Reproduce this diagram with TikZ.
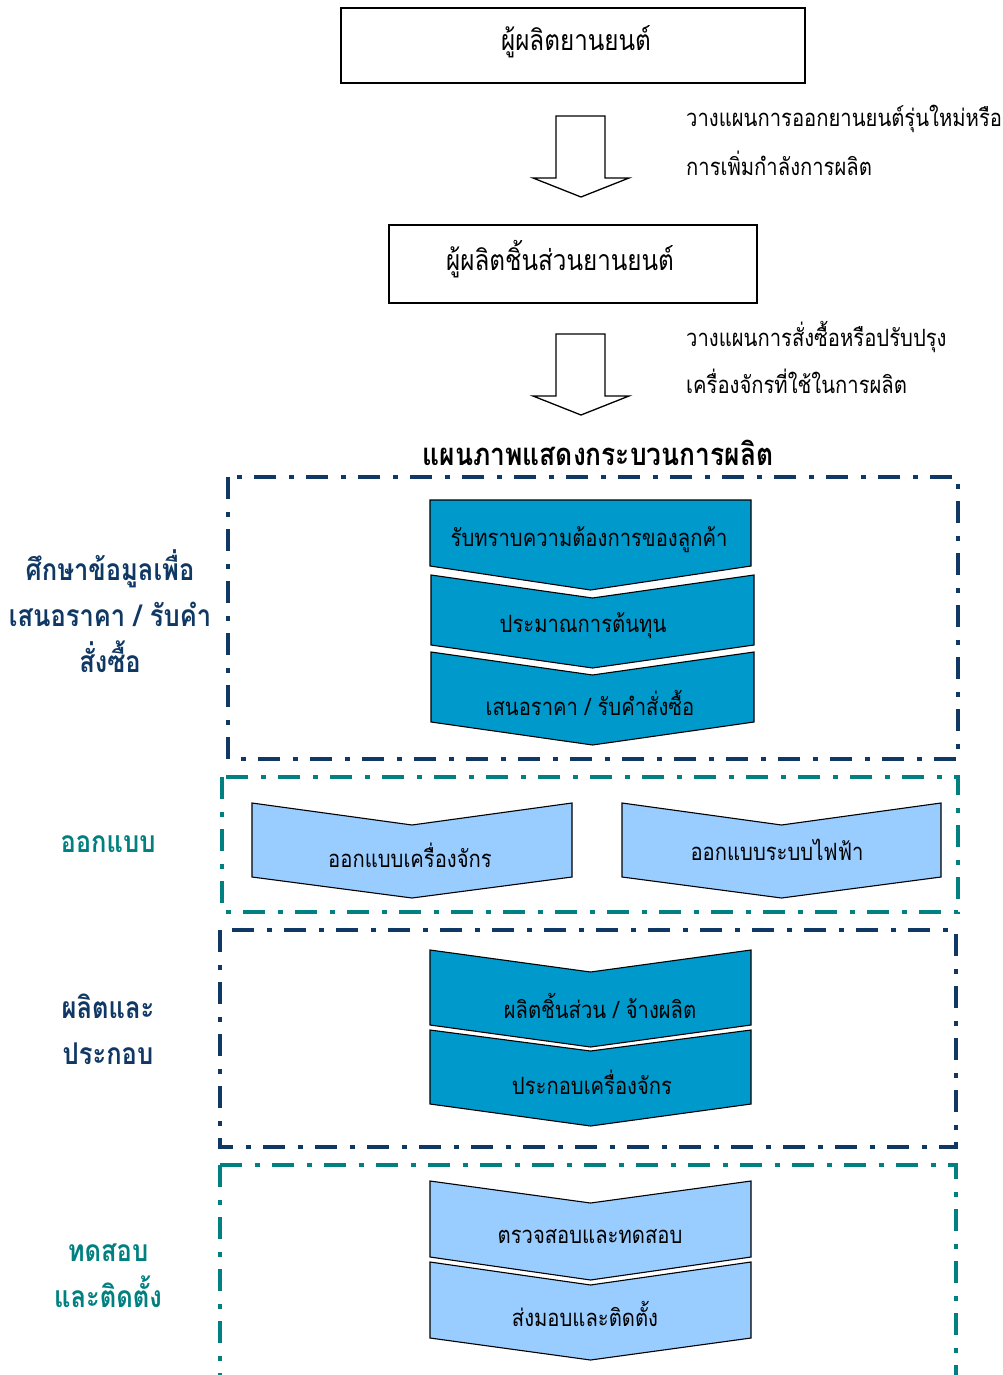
\documentclass[tikz,border=0pt]{standalone}
\usepackage{fontspec}
\newfontfamily\thai[Script=Thai,FakeStretch=0.85]{Loma}
\definecolor{navy}{RGB}{16,56,100}
\definecolor{tealc}{RGB}{0,128,128}
\definecolor{darkchev}{RGB}{0,153,204}
\definecolor{lightchev}{RGB}{153,204,255}
\newcommand\chevshape[8]{% name x1 x2 ytop ybot notch tip fill
  \filldraw[chevline, fill=#8] (#2,#4) -- ({(#2+#3)/2},{#4+#6}) -- (#3,#4) -- (#3,#5) -- ({(#2+#3)/2},{#5+#7}) -- (#2,#5) -- cycle;
  \coordinate (#1) at ({(#2+#3)/2},{(#4+#5)/2});}
\begin{document}
\begin{tikzpicture}[x=1pt,y=-1pt,line join=miter,
  body/.style={font=\thai\fontsize{23.8}{28}\selectfont, inner sep=0pt},
  boxtxt/.style={font=\thai\fontsize{28.5}{32}\selectfont, inner sep=0pt},
  sidelabel/.style={font=\thai\bfseries\fontsize{30}{46}\selectfont, align=center, inner sep=0pt},
  titletxt/.style={font=\thai\bfseries\fontsize{31}{34}\selectfont, inner sep=0pt},
  sect/.style={line width=4pt, dash pattern=on 22pt off 12.5pt on 5pt off 12.5pt},
  chevline/.style={draw=black, line width=1.1pt},
  blockarrow/.style={draw=black, line width=1.3pt, fill=white},
  plainbox/.style={draw=black, line width=1.3pt, fill=white}]
\useasboundingbox (0,0) rectangle (1002,1375);
\fill[white] (0,0) rectangle (1002,1375);

% top boxes
\draw[plainbox] (341,8) rectangle (805,83);
\node[boxtxt] (t1) at (576,42) {ผู้ผลิตยานยนต์};
\draw[plainbox] (389,225) rectangle (757,303);
\node[boxtxt] (t2) at (560,259) {ผู้ผลิตชิ้นส่วนยานยนต์};

% block arrows
\draw[blockarrow] (556,116) -- (605,116) -- (605,178) -- (629,178) -- (581,197) -- (533,178) -- (556,178) -- cycle;
\draw[blockarrow] (556,334) -- (605,334) -- (605,396) -- (629,396) -- (581,415) -- (533,396) -- (556,396) -- cycle;

\node[body, anchor=west] (n1) at (686,119) {วางแผนการออกยานยนต์รุ่นใหม่หรือ};
\node[body, anchor=west] (n2) at (686,163) {การเพิ่มกำลังการผลิต};
\node[body, anchor=west] (n3) at (686,337) {วางแผนการสั่งซื้อหรือปรับปรุง};
\node[body, anchor=west] (n4) at (686,381) {เครื่องจักรที่ใช้ในการผลิต};

\node[titletxt] (title) at (598,453) {แผนภาพแสดงกระบวนการผลิต};

% section frames
\draw[sect, navy] (228,477) rectangle (958,759);
\draw[sect, tealc] (222,777) rectangle (958,912);
\draw[sect, navy] (220,930) rectangle (956,1147);
\draw[sect, tealc] (220,1165) -- (956,1165) -- (956,1380);
\draw[sect, tealc] (220,1165) -- (220,1380);

% side labels
\node[sidelabel, navy] (L1) at (110,611) {ศึกษาข้อมูลเพื่อ\\เสนอราคา / รับคำ\\สั่งซื้อ};
\node[sidelabel, tealc] (L2) at (108,844) {ออกแบบ};
\node[sidelabel, navy] (L3) at (108,1029) {ผลิตและ\\ประกอบ};
\node[sidelabel, tealc] (L4) at (108,1276) {ทดสอบ\\และติดตั้ง};

% section 1 chevrons
\chevshape{c1}{430}{751}{500}{566}{0}{24}{darkchev}
\chevshape{c2}{431}{754}{575}{645}{23}{23}{darkchev}
\chevshape{c3}{431}{754}{652}{722}{23}{23}{darkchev}
\node[body] (s1) at (589,540) {รับทราบความต้องการของลูกค้า};
\node[body] (s2) at (583,626) {ประมาณการต้นทุน};
\node[body] (s3) at (590,703) {เสนอราคา / รับคำสั่งซื้อ};

% section 2 chevrons
\chevshape{c4}{252}{572}{803}{877}{22}{21}{lightchev}
\chevshape{c5}{622}{941}{803}{877}{22}{21}{lightchev}
\node[body] (s4) at (410,855) {ออกแบบเครื่องจักร};
\node[body] (s5) at (777,850) {ออกแบบระบบไฟฟ้า};

% section 3 chevrons
\chevshape{c6}{430}{751}{950}{1025}{22}{22}{darkchev}
\chevshape{c7}{430}{751}{1030}{1104}{21}{22}{darkchev}
\node[body] (s6) at (600,1006) {ผลิตชิ้นส่วน / จ้างผลิต};
\node[body] (s7) at (592,1082) {ประกอบเครื่องจักร};

% section 4 chevrons
\chevshape{c8}{430}{751}{1181}{1257}{22}{23}{lightchev}
\chevshape{c9}{430}{751}{1262}{1338}{23}{22}{lightchev}
\node[body] (s8) at (590,1237) {ตรวจสอบและทดสอบ};
\node[body] (s9) at (585,1314) {ส่งมอบและติดตั้ง};
\end{tikzpicture}
\end{document}
